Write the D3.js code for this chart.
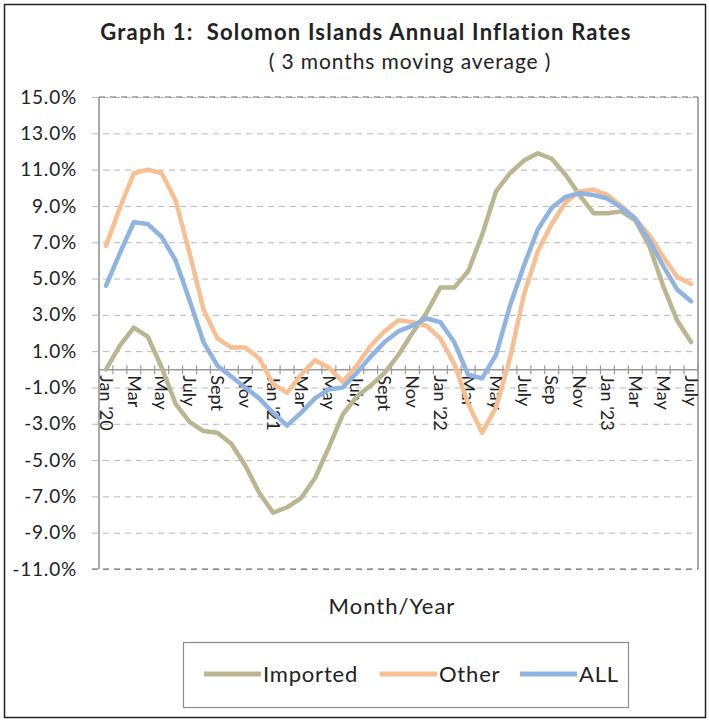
<!DOCTYPE html>
<html>
<head>
<meta charset="utf-8">
<script src="https://cdn.jsdelivr.net/npm/d3@7"></script>
<style>
  body { margin: 0; background: #fff; }
  svg { display: block; font-family: Lato, "Open Sans", sans-serif; }
</style>
</head>
<body>
<script>
// Month labels (only every second month is labelled on the axis)
var tickLabels = ["Jan '20", "", "Mar", "", "May", "", "July", "", "Sept", "", "Nov", "",
  "Jan '21", "", "Mar", "", "May", "", "July", "", "Sept", "", "Nov", "",
  "Jan '22", "", "Mar", "", "May", "", "July", "", "Sep", "", "Nov", "",
  "Jan '23", "", "Mar", "", "May", "", "July"];

// Annual inflation, 3 months moving average (%)
var imported = [0.0, 1.3, 2.3, 1.8, 0.1, -1.9, -2.9, -3.4, -3.5, -4.1, -5.3, -6.8,
  -7.9, -7.6, -7.1, -6.0, -4.3, -2.5, -1.5, -0.9, -0.2, 0.8, 2.0, 3.1,
  4.5, 4.5, 5.4, 7.4, 9.8, 10.8, 11.5, 11.9, 11.6, 10.7, 9.6, 8.6,
  8.6, 8.7, 8.2, 6.8, 4.6, 2.7, 1.5];
var other = [6.8, 8.9, 10.8, 11.0, 10.8, 9.3, 6.4, 3.3, 1.7, 1.2, 1.2, 0.6,
  -0.8, -1.3, -0.3, 0.5, 0.1, -0.7, 0.2, 1.3, 2.1, 2.7, 2.6, 2.4,
  1.7, 0.3, -1.9, -3.5, -2.1, 0.6, 4.1, 6.5, 8.0, 9.2, 9.8, 9.9,
  9.6, 9.0, 8.3, 7.4, 6.2, 5.1, 4.7];
var all = [4.6, 6.4, 8.1, 8.0, 7.3, 6.0, 3.8, 1.5, 0.2, -0.4, -1.0, -1.6,
  -2.4, -3.1, -2.4, -1.6, -1.1, -1.0, -0.2, 0.7, 1.5, 2.1, 2.4, 2.8,
  2.6, 1.5, -0.3, -0.5, 0.8, 3.5, 5.7, 7.7, 8.9, 9.5, 9.7, 9.6,
  9.4, 8.9, 8.3, 7.1, 5.7, 4.4, 3.75];

var yTicks = [-11, -9, -7, -5, -3, -1, 1, 3, 5, 7, 9, 11, 13, 15];

var seriesNames = ["Imported", "Other", "ALL"];
var seriesColors = ["#bab691", "#f8bf93", "#8fb4e2"];
var seriesData = [imported, other, all];

// SVG area
var svgWidth = 709;
var svgHeight = 722;

var chartMargin = { top: 97, right: 11, bottom: 153, left: 99 };
var chartWidth = svgWidth - chartMargin.left - chartMargin.right;
var chartHeight = svgHeight - chartMargin.top - chartMargin.bottom;

var svg = d3.select("body")
  .append("svg")
  .attr("width", svgWidth)
  .attr("height", svgHeight);

// outer frame
svg.append("rect")
  .attr("x", 4.5)
  .attr("y", 4.5)
  .attr("width", 701)
  .attr("height", 713)
  .attr("fill", "#fff")
  .attr("stroke", "#222")
  .attr("stroke-width", 1.5);

// titles
svg.append("text")
  .attr("x", 366)
  .attr("y", 40)
  .attr("text-anchor", "middle")
  .attr("font-size", 22)
  .attr("letter-spacing", 1.2)
  .attr("font-weight", "bold")
  .attr("fill", "#222")
  .attr("xml:space", "preserve")
  .text("Graph 1:  Solomon Islands Annual Inflation Rates");

svg.append("text")
  .attr("x", 410)
  .attr("y", 69)
  .attr("text-anchor", "middle")
  .attr("font-size", 21)
  .attr("letter-spacing", 0.9)
  .attr("fill", "#222")
  .text("( 3 months moving average )");

var chartGroup = svg.append("g")
  .attr("transform", `translate(${chartMargin.left}, ${chartMargin.top})`);

// scales
var xBandScale = d3.scaleBand()
  .domain(d3.range(tickLabels.length))
  .range([0, chartWidth])
  .padding(0);

var yLinearScale = d3.scaleLinear()
  .domain([-11, 15])
  .range([chartHeight, 0]);

var xMid = i => xBandScale(i) + xBandScale.bandwidth() / 2;

// horizontal gridlines and left axis
var leftAxis = d3.axisLeft(yLinearScale)
  .tickValues(yTicks)
  .tickSize(-chartWidth - 7)
  .tickPadding(15)
  .tickFormat(d => d.toFixed(1) + "%");

var yAxisGroup = chartGroup.append("g")
  .attr("transform", "translate(-7, 0)")
  .call(leftAxis);

yAxisGroup.select(".domain").remove();
yAxisGroup.selectAll(".tick line")
  .attr("x1", 0)
  .attr("x2", chartWidth + 7)
  .attr("stroke", "#b8b8b8")
  .attr("stroke-dasharray", "6,5");
yAxisGroup.selectAll(".tick text")
  .attr("x", -15)
  .attr("font-size", 19)
  .attr("letter-spacing", 0.8)
  .attr("font-family", "Lato, sans-serif")
  .attr("fill", "#222");

// plot border left / right
chartGroup.append("line")
  .attr("x1", 0).attr("x2", 0)
  .attr("y1", 0).attr("y2", chartHeight)
  .attr("stroke", "#8c8c8c")
  .attr("stroke-width", 1.5);
chartGroup.append("line")
  .attr("x1", chartWidth).attr("x2", chartWidth)
  .attr("y1", 0).attr("y2", chartHeight)
  .attr("stroke", "#8c8c8c")
  .attr("stroke-width", 1.5);
chartGroup.append("line")
  .attr("x1", 0).attr("x2", chartWidth)
  .attr("y1", 0).attr("y2", 0)
  .attr("stroke", "#666")
  .attr("stroke-dasharray", "6,5");
chartGroup.append("line")
  .attr("x1", -7).attr("x2", chartWidth)
  .attr("y1", chartHeight).attr("y2", chartHeight)
  .attr("stroke", "#666")
  .attr("stroke-dasharray", "6,5");

// category axis crossing at zero
var bottomAxis = d3.axisBottom(xBandScale)
  .tickSize(0)
  .tickFormat(i => tickLabels[i]);

var xAxisGroup = chartGroup.append("g")
  .attr("transform", `translate(0, ${yLinearScale(0)})`)
  .call(bottomAxis);

xAxisGroup.select(".domain")
  .attr("stroke", "#9a9a9a")
  .attr("stroke-width", 1.5);

xAxisGroup.selectAll(".tick text")
  .attr("transform", "rotate(90)")
  .attr("x", 6)
  .attr("y", 0)
  .attr("dy", "0.35em")
  .attr("text-anchor", "start")
  .attr("font-size", 18)
  .attr("font-family", "Lato, sans-serif")
  .attr("fill", "#222");

// tick marks between categories
xAxisGroup.selectAll(".cat-tick")
  .data(d3.range(tickLabels.length + 1))
  .enter()
  .append("line")
  .attr("class", "cat-tick")
  .attr("x1", i => i * xBandScale.bandwidth())
  .attr("x2", i => i * xBandScale.bandwidth())
  .attr("y1", -4)
  .attr("y2", 5)
  .attr("stroke", "#9a9a9a")
  .attr("stroke-width", 1.2);

// series lines
var line = d3.line()
  .x((d, i) => xMid(i))
  .y(d => yLinearScale(d));

chartGroup.selectAll(".series")
  .data(seriesData)
  .enter()
  .append("path")
  .attr("class", "series")
  .attr("d", d => line(d))
  .attr("fill", "none")
  .attr("stroke", (d, i) => seriesColors[i])
  .attr("stroke-width", 4.5)
  .attr("stroke-linejoin", "round")
  .attr("stroke-linecap", "round");

// x axis title
svg.append("text")
  .attr("x", 392)
  .attr("y", 614)
  .attr("text-anchor", "middle")
  .attr("font-size", 22)
  .attr("letter-spacing", 1)
  .attr("fill", "#222")
  .text("Month/Year");

// legend
var legend = svg.append("g");

legend.append("rect")
  .attr("x", 183.5)
  .attr("y", 642.5)
  .attr("width", 445)
  .attr("height", 65)
  .attr("fill", "#fff")
  .attr("stroke", "#8c8c8c")
  .attr("stroke-width", 1.2);

var legendX = [204, 380, 520];

var legendItems = legend.selectAll(".legend-item")
  .data(seriesNames)
  .enter()
  .append("g")
  .attr("class", "legend-item")
  .attr("transform", (d, i) => `translate(${legendX[i]}, 674)`);

legendItems.append("line")
  .attr("x1", 0)
  .attr("x2", 57)
  .attr("stroke", (d, i) => seriesColors[i])
  .attr("stroke-width", 5);

legendItems.append("text")
  .attr("x", 59)
  .attr("y", 8)
  .attr("font-size", 22)
  .attr("letter-spacing", 0.8)
  .attr("fill", "#222")
  .text(d => d);
</script>
</body>
</html>
